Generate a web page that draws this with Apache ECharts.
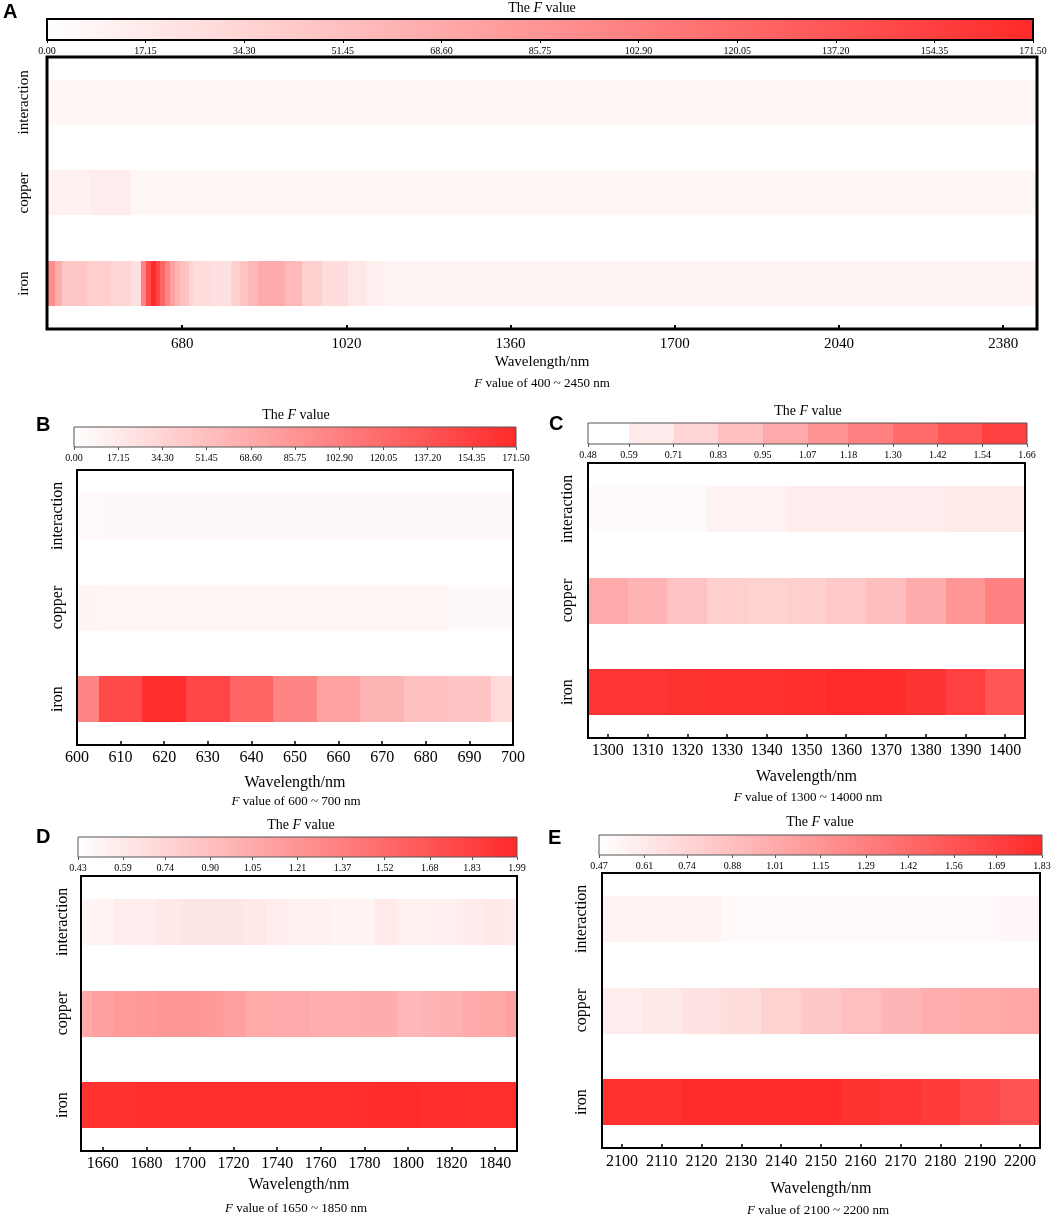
<!DOCTYPE html>
<html>
<head>
<meta charset="utf-8">
<script src="https://cdn.jsdelivr.net/npm/echarts@6/dist/echarts.min.js"></script>
<style>
html, body { margin: 0; padding: 0; background: #fff; }
#main { width: 1059px; height: 1218px; }
</style>
</head>
<body>
<div id="main"></div>
<script>
// rows from bottom to top
var rowNames = ['iron', 'copper', 'interaction'];

// A: 400 ~ 2450 nm, piecewise segments (edges in nm, F value per segment)
var aIronEdges = [400, 417, 431, 483, 532, 573, 594, 605, 615, 625, 635, 645, 655, 665, 675, 685, 695, 705, 740, 782, 800, 816, 837, 864, 892, 927, 969, 1024, 1060, 1100, 2450];
var aIronF = [92, 66, 46, 39, 33, 25, 98, 146, 171, 150, 124, 98, 76, 60, 51, 47, 34, 29, 25, 38, 47, 58, 68, 68, 56, 38, 27, 19, 13, 9];
var aCopperEdges = [400, 490, 573, 2450];
var aCopperF = [11, 15, 7];
var aInterEdges = [400, 2450];
var aInterF = [7];
var aTicks = [680, 1020, 1360, 1700, 2040, 2380];

// B: 600 ~ 700 nm
var bWave = [600, 610, 620, 630, 640, 650, 660, 670, 680, 690, 700];
var bIron = [98, 146, 169, 150, 124, 98, 76, 60, 51, 47, 30];
var bCopper = [8, 7, 7, 7, 7, 7, 7, 7, 7, 6, 6];
var bInter = [5, 6, 6, 6, 6, 6, 6, 6, 6, 6, 6];

// C: 1300 ~ 1400 nm
var cWave = [1300, 1310, 1320, 1330, 1340, 1350, 1360, 1370, 1380, 1390, 1400];
var cIron = [1.60, 1.60, 1.615, 1.62, 1.625, 1.63, 1.66, 1.65, 1.61, 1.54, 1.42];
var cCopper = [0.95, 0.90, 0.82, 0.75, 0.73, 0.75, 0.78, 0.84, 0.94, 1.06, 1.18];
var cInter = [0.50, 0.50, 0.51, 0.55, 0.55, 0.58, 0.58, 0.58, 0.58, 0.60, 0.60];

// D: 1650 ~ 1850 nm
var dWave = [1650, 1660, 1670, 1680, 1690, 1700, 1710, 1720, 1730, 1740, 1750, 1760, 1770, 1780, 1790, 1800, 1810, 1820, 1830, 1840, 1850];
var dIron = [1.94, 1.94, 1.94, 1.95, 1.95, 1.95, 1.95, 1.95, 1.95, 1.95, 1.95, 1.96, 1.96, 1.97, 1.99, 1.99, 1.97, 1.97, 1.96, 1.96, 1.96];
var dCopper = [1.06, 1.13, 1.16, 1.18, 1.20, 1.19, 1.17, 1.13, 1.06, 1.05, 1.05, 1.03, 1.03, 1.04, 1.04, 0.95, 0.97, 1.01, 1.05, 1.07, 1.12];
var dInter = [0.50, 0.52, 0.56, 0.57, 0.60, 0.61, 0.61, 0.61, 0.60, 0.56, 0.53, 0.53, 0.52, 0.52, 0.59, 0.54, 0.55, 0.55, 0.58, 0.60, 0.58];
var dTicks = [1660, 1680, 1700, 1720, 1740, 1760, 1780, 1800, 1820, 1840];

// E: 2100 ~ 2200 nm
var eWave = [2100, 2110, 2120, 2130, 2140, 2150, 2160, 2170, 2180, 2190, 2200];
var eIron = [1.79, 1.79, 1.82, 1.82, 1.82, 1.83, 1.78, 1.76, 1.72, 1.65, 1.56];
var eCopper = [0.585, 0.62, 0.65, 0.69, 0.76, 0.82, 0.88, 0.94, 0.99, 1.02, 1.04];
var eInter = [0.55, 0.55, 0.55, 0.51, 0.51, 0.51, 0.51, 0.51, 0.51, 0.51, 0.52];

// colour bar tick labels
var fTicksAB = [0, 17.15, 34.30, 51.45, 68.60, 85.75, 102.90, 120.05, 137.20, 154.35, 171.50];
var fTicksC = [0.48, 0.59, 0.71, 0.83, 0.95, 1.07, 1.18, 1.30, 1.42, 1.54, 1.66];
var fTicksD = [0.43, 0.59, 0.74, 0.90, 1.05, 1.21, 1.37, 1.52, 1.68, 1.83, 1.99];
var fTicksE = [0.47, 0.61, 0.74, 0.88, 1.01, 1.15, 1.29, 1.42, 1.56, 1.69, 1.83];

var LOW = '#ffffff', HIGH = '#ff2a2a';
var SERIF = '"Liberation Serif", "Times New Roman", serif';

function centred(wave, vals, row) {
    return wave.map(function (w, i) { return [vals[i], w - 5, w + 5, row]; });
}
function segments(edges, vals, row) {
    return vals.map(function (v, i) { return [v, edges[i], edges[i + 1], row]; });
}

function renderCell(params, api) {
    var p0 = api.coord([api.value(1), api.value(3)]);
    var p1 = api.coord([api.value(2), api.value(3)]);
    var h = api.size([0, 1])[1] * 0.5;
    var cs = params.coordSys;
    var x0 = Math.round(p0[0]), x1 = Math.round(p1[0]);
    var shape = echarts.graphic.clipRectByRect(
        { x: x0, y: Math.round(p0[1] - h / 2), width: x1 - x0, height: Math.round(h) },
        { x: cs.x, y: cs.y, width: cs.width, height: cs.height });
    if (!shape) return;
    return { type: 'rect', shape: shape, style: { fill: api.visual('color') } };
}

function barRenderer(piecewise) {
    return function (params, api) {
        var p0 = api.coord([api.value(0), 1]);
        var p1 = api.coord([api.value(1), 0]);
        var x0 = Math.round(p0[0]), x1 = Math.round(p1[0]);
        var fill = piecewise ? api.visual('color') : new echarts.graphic.LinearGradient(0, 0, 1, 0, [
            { offset: 0, color: LOW }, { offset: 1, color: HIGH }]);
        return {
            type: 'rect',
            shape: { x: x0, y: p0[1], width: x1 - x0, height: p1[1] - p0[1] },
            style: { fill: fill }
        };
    };
}

function range(vals) {
    var out = [];
    for (var i = 0; i < vals.length - 1; i++) out.push([vals[i], vals[i + 1]]);
    return out;
}

var panels = [
    {
        letter: 'A', sub: '400 ~ 2450 nm',
        cells: segments(aIronEdges, aIronF, 0).concat(segments(aCopperEdges, aCopperF, 1), segments(aInterEdges, aInterF, 2)),
        xmin: 400, xmax: 2450, xticks: aTicks, fticks: fTicksAB, piecewise: false,
        grid: [47, 57, 990, 272], frame: 3, bar: [47, 19, 986, 21], barFrame: 2, barColor: '#000',
        font: 15, xMargin: 8, yMargin: 15, nameGap: 26,
        letterPos: [3, 2], titlePos: [542, 1], subPos: [542, 377]
    },
    {
        letter: 'B', sub: '600 ~ 700 nm',
        cells: centred(bWave, bIron, 0).concat(centred(bWave, bCopper, 1), centred(bWave, bInter, 2)),
        xmin: 600, xmax: 700, xticks: bWave, fticks: fTicksAB, piecewise: false,
        grid: [77, 470, 436, 275], frame: 2, bar: [74, 427, 442, 20], barFrame: 1, barColor: '#555',
        font: 16, xMargin: 5, yMargin: 11, nameGap: 30,
        letterPos: [36, 415], titlePos: [296, 408], subPos: [296, 795]
    },
    {
        letter: 'C', sub: '1300 ~ 14000 nm',
        cells: centred(cWave, cIron, 0).concat(centred(cWave, cCopper, 1), centred(cWave, cInter, 2)),
        xmin: 1295, xmax: 1405, xticks: cWave, fticks: fTicksC, piecewise: true,
        grid: [588, 463, 437, 275], frame: 2, bar: [588, 423, 439, 21], barFrame: 1, barColor: '#555',
        font: 16, xMargin: 5, yMargin: 12, nameGap: 31,
        letterPos: [549, 414], titlePos: [808, 404], subPos: [808, 791]
    },
    {
        letter: 'D', sub: '1650 ~ 1850 nm',
        cells: centred(dWave, dIron, 0).concat(centred(dWave, dCopper, 1), centred(dWave, dInter, 2)),
        xmin: 1650, xmax: 1850, xticks: dTicks, fticks: fTicksD, piecewise: false,
        grid: [81, 876, 436, 275], frame: 2, bar: [78, 837, 439, 20], barFrame: 1, barColor: '#555',
        font: 16, xMargin: 5, yMargin: 10, nameGap: 26,
        letterPos: [36, 827], titlePos: [301, 818], subPos: [296, 1202]
    },
    {
        letter: 'E', sub: '2100 ~ 2200 nm',
        cells: centred(eWave, eIron, 0).concat(centred(eWave, eCopper, 1), centred(eWave, eInter, 2)),
        xmin: 2095, xmax: 2205, xticks: eWave, fticks: fTicksE, piecewise: false,
        grid: [602, 873, 438, 275], frame: 2, bar: [599, 835, 443, 20], barFrame: 1, barColor: '#555',
        font: 16, xMargin: 6, yMargin: 12, nameGap: 33,
        letterPos: [548, 828], titlePos: [820, 815], subPos: [818, 1204]
    }
];

var grids = [], xAxes = [], yAxes = [], series = [], visualMaps = [], titles = [];

panels.forEach(function (p) {
    var fmin = p.fticks[0], fmax = p.fticks[p.fticks.length - 1];

    // main heat map
    var gi = grids.length;
    grids.push({
        left: p.grid[0], top: p.grid[1], width: p.grid[2], height: p.grid[3],
        show: true, z: 10, backgroundColor: 'transparent', borderColor: '#000', borderWidth: p.frame
    });
    xAxes.push({
        gridIndex: gi, type: 'value', min: p.xmin, max: p.xmax,
        name: 'Wavelength/nm', nameLocation: 'middle', nameGap: p.nameGap,
        nameTextStyle: { fontFamily: SERIF, fontSize: p.font, color: '#000' },
        axisLine: { show: false }, splitLine: { show: false },
        axisTick: { show: true, inside: true, length: 4, customValues: p.xticks, lineStyle: { color: '#000', width: p.frame === 3 ? 2 : 1.5 } },
        axisLabel: {
            customValues: p.xticks, margin: p.xMargin, fontFamily: SERIF, fontSize: p.font, color: '#000',
            formatter: function (v) { return String(v); }
        }
    });
    yAxes.push({
        gridIndex: gi, type: 'category', data: rowNames,
        axisLine: { show: false }, axisTick: { show: false }, splitLine: { show: false },
        axisLabel: { rotate: 90, margin: p.yMargin, fontFamily: SERIF, fontSize: p.font, color: '#000' }
    });
    var si = series.length;
    series.push({
        type: 'custom', xAxisIndex: gi, yAxisIndex: gi,
        renderItem: renderCell, encode: { x: [1, 2], y: 3 }, data: p.cells, silent: true
    });

    // colour bar
    var bi = grids.length;
    grids.push({
        left: p.bar[0], top: p.bar[1], width: p.bar[2], height: p.bar[3],
        show: true, z: 10, backgroundColor: 'transparent', borderColor: p.barColor, borderWidth: p.barFrame
    });
    xAxes.push({
        gridIndex: bi, type: 'value', min: fmin, max: fmax,
        axisLine: { show: false }, splitLine: { show: false },
        axisTick: { show: true, length: 3, customValues: p.fticks, lineStyle: { color: p.barColor, width: 1 } },
        axisLabel: {
            customValues: p.fticks, margin: 6, fontFamily: SERIF, fontSize: 10, color: '#000',
            formatter: function (v) { return Number(v).toFixed(2); }
        }
    });
    yAxes.push({ gridIndex: bi, type: 'value', min: 0, max: 1, show: false });
    series.push({
        type: 'custom', xAxisIndex: bi, yAxisIndex: bi, silent: true,
        renderItem: barRenderer(p.piecewise), encode: { x: [0, 1] },
        data: p.piecewise ? range(p.fticks) : [[fmin, fmax]]
    });

    visualMaps.push({
        type: 'continuous', show: false, min: fmin, max: fmax, dimension: 0,
        seriesIndex: [si, si + 1], inRange: { color: [LOW, HIGH] }
    });

    titles.push({
        text: p.letter, left: p.letterPos[0], top: p.letterPos[1], padding: 0,
        textStyle: { fontFamily: '"Liberation Sans", Arial, sans-serif', fontWeight: 'bold', fontSize: 20, color: '#000' }
    });
    titles.push({
        text: '{n|The }{i|F}{n| value}', left: p.titlePos[0], top: p.titlePos[1], padding: 0,
        textAlign: 'center', textVerticalAlign: 'top',
        textStyle: { fontWeight: 'normal', rich: {
            n: { fontFamily: SERIF, fontSize: 14, fontWeight: 'normal', color: '#000' },
            i: { fontFamily: SERIF, fontSize: 14, fontWeight: 'normal', fontStyle: 'italic', color: '#000' }
        } }
    });
    titles.push({
        text: '{i|F}{n| value of ' + p.sub + '}', left: p.subPos[0], top: p.subPos[1], padding: 0,
        textAlign: 'center', textVerticalAlign: 'top',
        textStyle: { fontWeight: 'normal', rich: {
            n: { fontFamily: SERIF, fontSize: 13, fontWeight: 'normal', color: '#000' },
            i: { fontFamily: SERIF, fontSize: 13, fontWeight: 'normal', fontStyle: 'italic', color: '#000' }
        } }
    });
});

var chart = echarts.init(document.getElementById('main'), null, { renderer: 'canvas' });
chart.setOption({
    backgroundColor: '#fff',
    animation: false,
    title: titles,
    grid: grids,
    xAxis: xAxes,
    yAxis: yAxes,
    visualMap: visualMaps,
    series: series
});
</script>
</body>
</html>
